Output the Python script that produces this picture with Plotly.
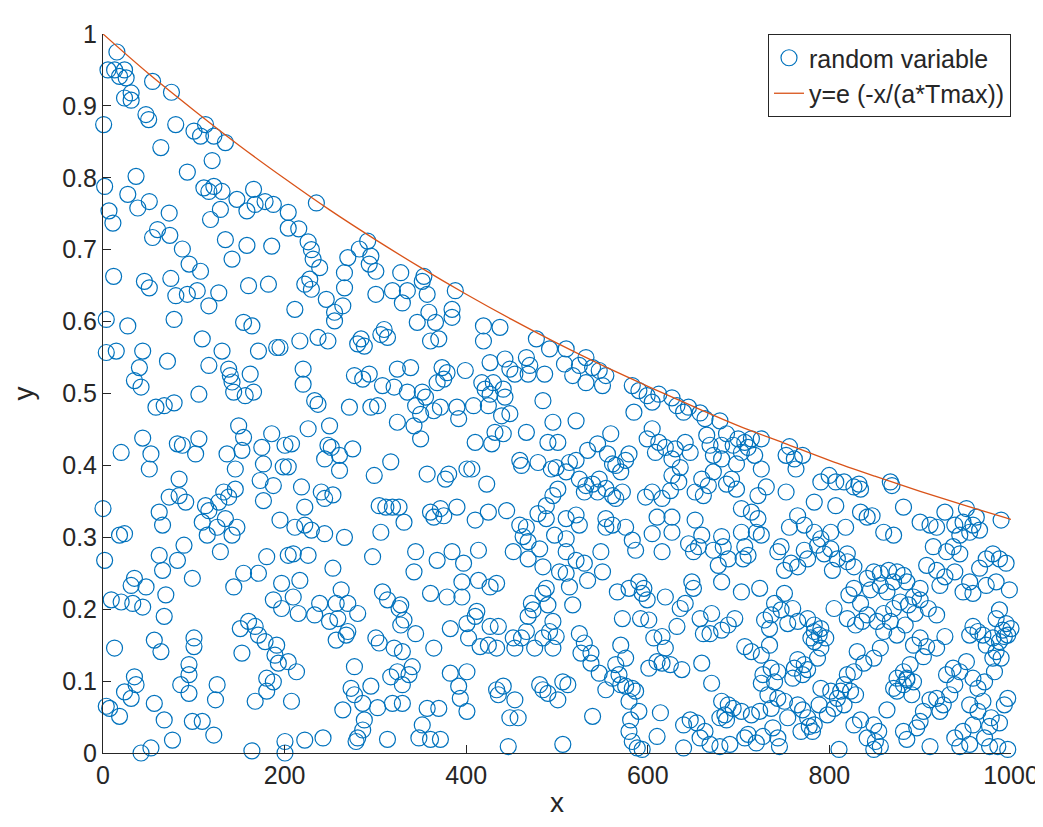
import plotly.graph_objects as go

# ---- data ----
pts_top_left = [(15.3,0.975),(12.8,0.950),(23.7,0.950),(18.2,0.941),(25.5,0.939),(5.5,0.950),(31,0.918),(23.7,0.911),(31,0.908),(54.6,0.934),(75.4,0.919),(0.7,0.874),(47.3,0.888),(50.3,0.881),(80.1,0.874),(100.2,0.865),(112.9,0.874),(107.4,0.858),(122.1,0.858),(134.8,0.849),(63.7,0.842),(120.2,0.824),(92.9,0.808),(1.8,0.788),(36.4,0.802),(27.3,0.777),(111.1,0.786),(122.1,0.788),(116.6,0.781),(131.1,0.781),(6.6,0.754),(10.9,0.737),(38.3,0.758),(51,0.767),(72.9,0.751),(60.1,0.728),(54.6,0.717),(73.6,0.720),(118.4,0.742),(129.3,0.756),(147.5,0.770),(158.5,0.754),(165.8,0.784),(167.5,0.763),(178.5,0.767),(187.6,0.763),(204,0.752),(204,0.730),(215.6,0.729),(225.9,0.711),(235,0.765),(134.8,0.714),(158.5,0.706),(185.8,0.705),(142.1,0.687),(87.4,0.701),(94.8,0.680),(107.4,0.670),(11.7,0.663),(45.6,0.656),(74.7,0.660),(229.5,0.700),(231.4,0.687),(238.6,0.675),(227.7,0.659),(269.6,0.689),(282.3,0.701),(291.5,0.712),(295,0.691),(293.2,0.680),(300.5,0.670),(265.9,0.668),(327.9,0.668),(353.4,0.663)]

pts_mid_left = [(51,0.647),(80.2,0.636),(92.9,0.638),(103.8,0.643),(116.6,0.622),(127.5,0.640),(160.3,0.650),(182.2,0.652),(222.2,0.652),(229.5,0.645),(266,0.647),(300.5,0.638),(318.8,0.643),(329.7,0.626),(3.6,0.603),(3.6,0.557),(14.6,0.559),(27.3,0.594),(43.7,0.559),(40.1,0.536),(34.6,0.518),(41.9,0.509),(71,0.545),(78.3,0.603),(109.3,0.576),(131.1,0.559),(116.6,0.539),(138.4,0.534),(140.2,0.525),(142.1,0.516),(143.9,0.502),(162.1,0.527),(165.8,0.502),(156.6,0.497),(105.6,0.499),(58.3,0.481),(67.4,0.483),(78.3,0.487),(154.8,0.599),(164,0.594),(171.2,0.559),(191.3,0.564),(194.9,0.564),(211.3,0.617),(216.8,0.573),(236.8,0.578),(247.7,0.573),(245.9,0.631),(255,0.613),(255,0.601),(264.1,0.622),(220.4,0.534),(220.4,0.513),(233.1,0.490),(236.8,0.485),(271.4,0.481),(276.9,0.525),(286,0.520),(284.2,0.576),(287.8,0.566),(293.2,0.527),(280.5,0.569),(309.6,0.589),(313.3,0.578),(306,0.582),(307.8,0.511),(320.6,0.509),(295,0.481),(302.4,0.483),(324.2,0.534),(324.2,0.460),(43.7,0.438),(52.8,0.416),(51,0.395),(20,0.418),(81.9,0.430),(87.4,0.428),(102,0.416),(105.6,0.437),(83.8,0.381),(72.9,0.356),(83.8,0.358),(91.1,0.349),(61.9,0.335),(65.6,0.317),(0,0.340),(18.2,0.303),(23.7,0.305),(149.4,0.455),(154.8,0.439),(153,0.421),(136.6,0.416),(145.7,0.395),(174.9,0.425),(185.8,0.444),(176.7,0.402),(200.4,0.428),(207.6,0.430),(204,0.398),(198.5,0.398),(173.1,0.379),(187.6,0.372),(176.7,0.351),(145.7,0.367),(133,0.363),(127.5,0.349),(138.4,0.356),(112.9,0.344),(116.6,0.337),(109.3,0.321),(134.8,0.326),(125.7,0.314),(147.5,0.314),(142.1,0.303),(114.8,0.303),(225.9,0.451),(249.5,0.455),(247.7,0.428),(251.4,0.425),(244.1,0.409),(260.5,0.414),(275,0.423),(260.5,0.393),(218.6,0.370),(222.2,0.342),(240.4,0.363),(244.1,0.354),(253.2,0.359),(194.9,0.324),(211.3,0.314),(222.2,0.317),(229.5,0.310),(244.1,0.305),(265.9,0.300),(298.7,0.386),(316.9,0.405),(304.2,0.344),(311.5,0.342),(318.8,0.342),(326,0.342),(306,0.307),(331.5,0.321)]

pts_mid_center = [(351.6,0.656),(335.2,0.643),(357,0.638),(388,0.643),(384.4,0.617),(384.4,0.606),(358.9,0.613),(366.2,0.599),(346.1,0.599),(360.7,0.573),(369.8,0.576),(419,0.594),(437.2,0.592),(419,0.573),(477.3,0.576),(491.8,0.562),(510.1,0.562),(531.9,0.550),(539.2,0.536),(553.8,0.525),(546.5,0.532),(524.6,0.539),(517.3,0.525),(508.2,0.541),(550.1,0.511),(531.9,0.515),(426.3,0.543),(442.7,0.548),(448.1,0.534),(466.3,0.550),(470,0.539),(468.2,0.527),(486.4,0.527),(453.6,0.527),(338.8,0.536),(373.4,0.536),(378.9,0.529),(375.3,0.520),(399,0.532),(368,0.515),(417.2,0.515),(420.8,0.506),(429.9,0.515),(426.3,0.499),(440.8,0.506),(442.7,0.495),(484.5,0.490),(335.2,0.502),(351.6,0.502),(355.2,0.495),(344.3,0.483),(349.8,0.471),(342.5,0.455),(364.3,0.476),(371.6,0.481),(389.8,0.481),(391.7,0.465),(408.1,0.483),(424.4,0.483),(349.8,0.437),(439,0.469),(448.1,0.472),(431.7,0.446),(440.8,0.444),(428.1,0.430),(409.9,0.432),(466.3,0.446),(495.5,0.460),(490,0.432),(500.9,0.432),(521,0.462),(559.2,0.444),(544.7,0.430),(533.7,0.421),(555.6,0.416),(579.3,0.416),(575.6,0.407),(561.1,0.402),(582.9,0.511),(590.2,0.504),(599.3,0.497),(584.7,0.474),(604.8,0.488),(612.1,0.499),(626.6,0.494),(632.1,0.483),(639.4,0.474),(644.8,0.481),(657.6,0.473),(604.8,0.451),(599.3,0.437),(612.1,0.432),(608.4,0.418),(619.3,0.425),(630.3,0.423),(641.2,0.432),(646.7,0.418),(626.6,0.409),(635.7,0.397),(626.6,0.386),(634.1,0.377),(625,0.365),(615.7,0.354),(604.8,0.363),(663,0.465),(664.9,0.442),(668.5,0.428),(659.4,0.381),(666.7,0.372),(661.2,0.358),(652.1,0.363),(597.5,0.356),(610.2,0.328),(626.6,0.328),(604.8,0.305),(626.6,0.307),(652.1,0.324),(659.4,0.303),(564.7,0.400),(570.2,0.391),(572,0.363),(564.7,0.354),(524.6,0.381),(531.9,0.372),(539.2,0.374),(546.5,0.381),(530.1,0.363),(544.7,0.363),(553.8,0.368),(561.1,0.358),(459,0.407),(460.9,0.400),(479.1,0.404),(493.7,0.395),(499.1,0.397),(513.7,0.404),(521,0.407),(510.1,0.391),(500.9,0.367),(495.5,0.358),(488.2,0.344),(479.1,0.333),(488.2,0.326),(510.1,0.326),(524.6,0.317),(521,0.331),(553.8,0.326),(561.1,0.317),(553.8,0.314),(575.6,0.314),(582.9,0.296),(422.6,0.374),(424.4,0.335),(444.5,0.337),(459,0.317),(466.3,0.314),(462.7,0.301),(468.2,0.294),(409.9,0.324),(400.8,0.395),(406.2,0.395),(380.7,0.388),(377.1,0.381),(357,0.388),(389.8,0.342),(371.6,0.340),(364.3,0.328),(360.7,0.335),(375.3,0.330),(497.3,0.303),(510.1,0.298)]

pts_mid_right = [(679.4,0.462),(686.7,0.444),(681.3,0.428),(672.2,0.414),(681.3,0.409),(694,0.428),(699.5,0.437),(706.8,0.432),(710.4,0.425),(703.1,0.418),(717.7,0.414),(725,0.437),(714.1,0.437),(697.7,0.402),(725,0.395),(672.2,0.391),(686.7,0.374),(692.2,0.381),(697.7,0.367),(703.1,0.340),(721.3,0.358),(730.5,0.370),(714.1,0.335),(721.3,0.326),(719.5,0.307),(703.1,0.307),(725,0.303),(681.3,0.301),(752.3,0.363),(756,0.426),(752.3,0.414),(761.4,0.409),(770.5,0.414),(763.2,0.395),(765,0.330),(756,0.314),(772.3,0.317),(783.3,0.307),(790.6,0.298),(783.3,0.349),(790.6,0.377),(799.7,0.386),(807,0.377),(807,0.344),(816.1,0.377),(827,0.370),(834.3,0.367),(832.5,0.374),(817.9,0.314),(801.5,0.307),(834.3,0.335),(841.6,0.328),(847,0.330),(867.1,0.377),(868.9,0.372),(859.8,0.307),(870.7,0.303),(881.6,0.342),(899.9,0.321),(910.8,0.317),(918.1,0.314),(927.2,0.335),(938.1,0.317),(947.2,0.321),(950.9,0.340),(958.1,0.317),(961.8,0.328),(965.4,0.310),(943.6,0.303),(954.5,0.307),(989.1,0.324)]

pts_low_left = [(1.8,0.268),(61.9,0.275),(65.6,0.254),(82,0.268),(89.2,0.289),(98.4,0.243),(34.6,0.243),(31,0.233),(47.4,0.231),(43.7,0.203),(9.1,0.213),(20,0.210),(32.8,0.208),(69.2,0.220),(67.4,0.190),(129.3,0.280),(144,0.231),(154.8,0.250),(171.2,0.250),(180.3,0.273),(196.7,0.236),(216.8,0.240),(209.5,0.277),(225.9,0.275),(204,0.275),(253.2,0.257),(296.9,0.273),(187.6,0.213),(196.7,0.201),(209.5,0.217),(215,0.194),(233.1,0.192),(238.6,0.208),(249.5,0.183),(256.8,0.208),(262.3,0.227),(269.6,0.208),(280.5,0.194),(258.6,0.187),(269.6,0.169),(256.8,0.157),(267.8,0.164),(307.8,0.224),(313.3,0.213),(326.1,0.201),(327.9,0.178),(300.5,0.160),(304.2,0.153),(320.6,0.146),(329.7,0.141),(151.2,0.173),(160.3,0.183),(167.6,0.176),(171.2,0.164),(178.5,0.155),(191.3,0.150),(153,0.139),(12.7,0.146),(56.5,0.157),(63.8,0.141),(100.2,0.160),(100.2,0.148),(94.7,0.123),(94.7,0.109),(85.6,0.095),(94.7,0.083),(34.6,0.106),(36.4,0.095),(23.7,0.085),(31,0.076),(3.6,0.065),(18.2,0.051),(7.3,0.062),(56.5,0.069),(67.4,0.046),(76.5,0.018),(52.8,0.007),(41.9,0.0),(125.7,0.095),(123.9,0.074),(98.4,0.044),(109.3,0.044),(122,0.025),(189.4,0.136),(193.1,0.125),(180.3,0.104),(187.6,0.099),(180.3,0.086),(167.6,0.072),(213.1,0.113),(207.6,0.072),(204,0.127),(164,0.003),(200.4,0.016),(200.4,0.0),(222.2,0.018),(242.3,0.021),(276.9,0.120),(273.2,0.090),(295,0.093),(276.9,0.081),(286,0.069),(264.1,0.060),(302.4,0.063),(287.8,0.046),(286,0.032),(280.5,0.021),(278.7,0.016),(313.3,0.019),(316.9,0.106),(324.2,0.113),(318.8,0.069),(329.7,0.069)]

pts_low_center = [(344.3,0.280),(342.5,0.252),(368,0.268),(384.4,0.280),(397.1,0.264),(413.5,0.282),(395.3,0.238),(413.5,0.240),(426.3,0.231),(433.5,0.236),(360.7,0.222),(378.9,0.217),(395.3,0.217),(451.8,0.280),(480.9,0.284),(468.2,0.270),(484.5,0.259),(510.1,0.280),(521,0.268),(530.1,0.264),(510.1,0.250),(533.7,0.240),(548.3,0.280),(550.1,0.252),(502.8,0.252),(488.2,0.229),(484.5,0.222),(513.7,0.231),(517.3,0.206),(471.8,0.208),(473.6,0.199),(468.2,0.190),(490,0.206),(495.5,0.183),(491.8,0.169),(327.9,0.206),(331.5,0.185),(344.3,0.166),(340.6,0.120),(337,0.109),(329.7,0.095),(364.3,0.146),(382.5,0.173),(400.8,0.180),(409.9,0.190),(411.7,0.197),(402.6,0.160),(415.3,0.148),(424.4,0.150),(433.5,0.146),(426.3,0.176),(435.4,0.176),(451.8,0.160),(453.6,0.146),(460.9,0.160),(466.3,0.169),(475.4,0.146),(484.5,0.160),(499.1,0.162),(495.5,0.146),(382.5,0.111),(391.7,0.093),(400.8,0.113),(393.5,0.076),(400.8,0.058),(357,0.062),(369.8,0.062),(351.6,0.039),(347.9,0.021),(360.7,0.019),(371.6,0.019),(433.5,0.088),(435.4,0.081),(440.8,0.093),(453.6,0.074),(448.1,0.049),(457.2,0.049),(446.3,0.009),(480.9,0.095),(484.5,0.088),(490,0.083),(500.9,0.074),(506.4,0.099),(511.9,0.095),(506.4,0.012),(524.6,0.166),(530.1,0.153),(526.4,0.139),(537.4,0.139),(537.4,0.125),(546.5,0.111),(553.8,0.088),(561.1,0.104),(539.2,0.051),(564.7,0.123),(570.2,0.150),(575.6,0.132),(568.3,0.109),(570.2,0.095),(575.6,0.093),(582.9,0.090),(586.6,0.086),(579.3,0.072),(590.2,0.058),(581.1,0.046),(579.3,0.030),(582.9,0.016),(588.4,0.007),(593.8,0.005),(566.5,0.224),(579.3,0.229),(590.2,0.238),(595.7,0.229),(593.8,0.222),(599.3,0.213),(619.3,0.217),(601.1,0.185),(592,0.187),(572,0.187),(586.6,0.282),(615.7,0.280),(601.1,0.118),(606.6,0.160),(615.7,0.162),(619.3,0.146),(610.2,0.127),(615.7,0.125),(624.8,0.123),(637.5,0.116),(632.1,0.176),(613.9,0.056),(610.2,0.023),(639.4,0.039),(639.4,0.007),(646.7,0.046),(653.9,0.042),(657.6,0.021),(663,0.030),(668.5,0.012),(670.3,0.097),(641.2,0.208),(635.7,0.201),(648.5,0.238),(650.3,0.229),(657.6,0.187),(661.2,0.166),(670.3,0.194),(659.4,0.125),(644.9,0.291),(655.8,0.287),(650.3,0.280)]

pts_low_right = [(672.2,0.282),(683.1,0.287),(688.6,0.270),(677.6,0.261),(706.8,0.287),(710.4,0.275),(705,0.270),(743.2,0.280),(746.8,0.287),(757.8,0.264),(750.5,0.254),(765.1,0.259),(772.3,0.282),(776,0.270),(786.9,0.289),(794.2,0.277),(801.5,0.284),(808.8,0.270),(819.7,0.277),(803.3,0.254),(819.7,0.266),(827,0.259),(681.3,0.238),(703.1,0.224),(723.2,0.229),(739.6,0.208),(746.8,0.199),(750.5,0.222),(759.6,0.201),(735.9,0.192),(728.6,0.185),(734.1,0.173),(754.1,0.180),(765.1,0.183),(695.8,0.187),(688.6,0.178),(681.3,0.171),(668.5,0.166),(776,0.187),(783.3,0.178),(790.6,0.173),(788.7,0.164),(796,0.160),(783.3,0.169),(779.6,0.160),(805.1,0.201),(821.5,0.220),(827,0.229),(834.3,0.208),(841.6,0.192),(836.1,0.183),(828.8,0.178),(819.7,0.187),(841.6,0.243),(848.9,0.252),(856.1,0.250),(865.2,0.254),(874.4,0.252),(881.6,0.247),(885.3,0.238),(870.7,0.238),(856.1,0.233),(863.4,0.224),(845.2,0.227),(907.1,0.261),(918.1,0.254),(927.2,0.245),(921.7,0.233),(899.9,0.229),(892.6,0.217),(899.9,0.213),(887.1,0.206),(878,0.210),(870.7,0.201),(859.8,0.194),(867.1,0.183),(852.5,0.183),(859.8,0.169),(874.4,0.164),(883.5,0.178),(894.4,0.194),(908.9,0.201),(918.1,0.192),(914.4,0.287),(929,0.280),(936.3,0.287),(943.6,0.277),(938.1,0.252),(954.5,0.238),(947.2,0.224),(958.1,0.222),(965.4,0.257),(972.7,0.270),(980,0.277),(987.3,0.270),(994.6,0.264),(998.2,0.227),(983.6,0.238),(972.7,0.233),(987.3,0.199),(983.6,0.187),(994.6,0.180),(990.9,0.171),(1000,0.173),(992.7,0.162),(987.3,0.155),(980,0.160),(969.1,0.164),(958.1,0.176),(963.6,0.169),(954.5,0.164),(927.2,0.162),(918.1,0.146),(907.1,0.148),(899.9,0.160),(892.6,0.150),(903.5,0.134),(888.9,0.123),(881.6,0.113),(885.3,0.104),(874.4,0.104),(870.7,0.090),(856.1,0.146),(848.9,0.132),(837.9,0.125),(830.6,0.141),(827,0.113),(819.7,0.109),(816.1,0.095),(812.4,0.086),(823.3,0.086),(828.8,0.081),(808.8,0.076),(801.5,0.086),(805.1,0.062),(816.1,0.067),(790.6,0.090),(788.7,0.067),(797.8,0.053),(765.1,0.130),(761.4,0.118),(772.3,0.123),(770.5,0.109),(759.6,0.104),(776,0.116),(786.9,0.132),(790.6,0.146),(783.3,0.155),(706.8,0.148),(714.1,0.141),(725,0.136),(734.1,0.150),(735.9,0.118),(743.2,0.113),(726.8,0.109),(739.6,0.099),(725,0.097),(681.3,0.072),(688.6,0.067),(694,0.062),(686.7,0.046),(703.1,0.058),(679.4,0.049),(684.9,0.053),(714.1,0.053),(723.2,0.058),(732.3,0.081),(743.2,0.076),(735.9,0.062),(750.5,0.072),(754.1,0.049),(737.7,0.035),(743.2,0.021),(745,0.009),(765.1,0.067),(770.5,0.060),(776,0.049),(777.8,0.037),(768.7,0.030),(781.4,0.030),(783.3,0.039),(679.4,0.009),(690.4,0.012),(706.8,0.021),(719.5,0.014),(710.4,0.026),(726.8,0.023),(810.6,0.005),(827,0.039),(834.3,0.046),(848.9,0.039),(854.3,0.030),(850.7,0.016),(856.1,0.009),(841.6,0.021),(848.9,0.005),(863.4,0.060),(874.4,0.086),(881.6,0.095),(885.3,0.102),(892.6,0.099),(890.7,0.081),(903.5,0.058),(899.9,0.044),(910.8,0.074),(918.1,0.076),(925.4,0.067),(921.7,0.058),(932.6,0.081),(938.1,0.095),(881.6,0.030),(885.3,0.019),(896.2,0.035),(910.8,0.009),(938.1,0.021),(947.2,0.030),(954.5,0.012),(943.6,0.009),(936.3,0.118),(943.6,0.113),(929,0.109),(950.9,0.127),(958.1,0.104),(970.9,0.099),(981.8,0.113),(980,0.132),(972.7,0.150),(983.6,0.141),(989.1,0.132),(996.4,0.164),(963.6,0.090),(954.5,0.067),(969.1,0.072),(978.2,0.049),(976.4,0.037),(987.3,0.042),(992.7,0.067),(996.4,0.076),(958.1,0.039),(970.9,0.021),(976.4,0.009),(985.5,0.009),(996.4,0.005),(963.6,0.058)]

curve_x = [0, 50, 100, 150, 200, 250, 300, 350, 400, 450, 500, 550, 600, 650, 700, 750, 800, 850, 900, 950, 1000]
curve_y = [1.0, 0.945, 0.894, 0.845, 0.799, 0.755, 0.714, 0.675, 0.638, 0.603, 0.570, 0.539, 0.510, 0.482, 0.455, 0.431, 0.407, 0.385, 0.364, 0.344, 0.325]

x_ticks = [0, 200, 400, 600, 800, 1000]
y_ticks = [0, 0.1, 0.2, 0.3, 0.4, 0.5, 0.6, 0.7, 0.8, 0.9, 1]
y_tick_labels = ["0", "0.1", "0.2", "0.3", "0.4", "0.5", "0.6", "0.7", "0.8", "0.9", "1"]

all_pts = pts_top_left + pts_mid_left + pts_mid_center + pts_mid_right + pts_low_left + pts_low_center + pts_low_right
rand_x = [p[0] for p in all_pts]
rand_y = [p[1] for p in all_pts]

BLUE = "#0072BD"
ORANGE = "#D95319"
AX = "#262626"
FONT = "Liberation Sans, Arial, sans-serif"

fig = go.Figure()
fig.add_trace(go.Scatter(
    x=rand_x, y=rand_y, mode="markers", name="random variable",
    marker=dict(symbol="circle-open", size=16, color=BLUE, line=dict(width=1.2, color=BLUE)),
    cliponaxis=False,
))
fig.add_trace(go.Scatter(
    x=curve_x, y=curve_y, mode="lines", name="y=e (-x/(a*Tmax))",
    line=dict(color=ORANGE, width=1.3, shape="spline"),
))

fig.update_layout(
    width=1043, height=827,
    margin=dict(l=95, r=33, t=24, b=82),
    paper_bgcolor="white", plot_bgcolor="white",
    font=dict(family=FONT, size=25, color=AX),
    showlegend=True,
    legend=dict(
        x=1.0, xanchor="right", y=1.0, yanchor="top",
        bgcolor="white", bordercolor=AX, borderwidth=1,
        font=dict(family=FONT, size=25, color=AX),
        itemwidth=30,
    ),
    xaxis=dict(
        range=[0, 1000], tickvals=x_ticks, ticks="inside", ticklen=8, tickcolor=AX,
        showline=True, linecolor=AX, linewidth=1, mirror=False,
        showgrid=False, zeroline=False,
        tickfont=dict(family=FONT, size=25, color=AX),
        title=dict(text="x", font=dict(family=FONT, size=28, color=AX), standoff=4),
    ),
    yaxis=dict(
        range=[0, 1], tickvals=y_ticks, ticktext=y_tick_labels,
        ticks="inside", ticklen=8, tickcolor=AX,
        showline=True, linecolor=AX, linewidth=1, mirror=False,
        showgrid=False, zeroline=False,
        tickfont=dict(family=FONT, size=25, color=AX),
        title=dict(text="y", font=dict(family=FONT, size=28, color=AX), standoff=22),
    ),
)

fig.write_html("out.html")
